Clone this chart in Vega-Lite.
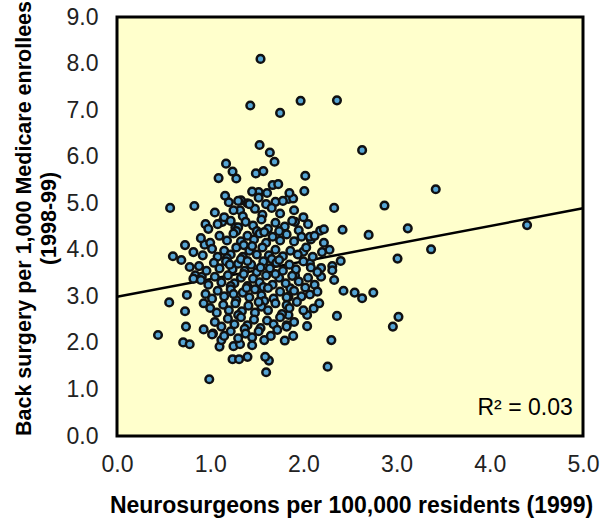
{
  "$schema": "https://vega.github.io/schema/vega-lite/v6.json",
  "width": 466,
  "height": 419,
  "autosize": "none",
  "padding": {"left": 117, "top": 17, "right": 19, "bottom": 87},
  "background": "white",
  "datasets": {
    "pts": [
      {"x":1.54,"y":8.10},{"x":1.43,"y":7.10},{"x":1.75,"y":6.94},{"x":1.97,"y":7.20},{"x":2.36,"y":7.21},
      {"x":1.53,"y":6.25},{"x":1.64,"y":6.09},{"x":1.69,"y":5.89},{"x":2.63,"y":6.14},{"x":1.17,"y":5.85},
      {"x":1.24,"y":5.68},{"x":1.28,"y":5.53},{"x":1.09,"y":5.54},{"x":1.49,"y":5.64},{"x":1.57,"y":5.69},
      {"x":2.02,"y":5.59},{"x":2.01,"y":5.26},{"x":1.67,"y":5.39},{"x":1.73,"y":5.41},{"x":1.16,"y":5.16},
      {"x":0.57,"y":4.90},{"x":0.83,"y":4.94},{"x":2.33,"y":4.90},{"x":3.42,"y":5.30},{"x":2.87,"y":4.95},
      {"x":2.42,"y":4.43},{"x":2.70,"y":4.32},{"x":3.12,"y":4.46},{"x":4.40,"y":4.53},{"x":3.37,"y":4.01},
      {"x":3.01,"y":3.81},{"x":2.40,"y":3.76},{"x":2.31,"y":3.65},{"x":2.33,"y":3.35},{"x":2.43,"y":3.12},
      {"x":2.55,"y":3.08},{"x":2.63,"y":2.96},{"x":2.75,"y":3.08},{"x":3.02,"y":2.56},{"x":2.96,"y":2.35},
      {"x":2.36,"y":2.58},{"x":2.30,"y":2.06},{"x":2.26,"y":1.49},{"x":1.52,"y":5.24},{"x":1.61,"y":5.22},
      {"x":1.84,"y":5.09},{"x":1.89,"y":5.10},{"x":1.70,"y":5.03},{"x":1.33,"y":5.06},{"x":1.32,"y":4.85},
      {"x":1.27,"y":4.48},{"x":0.95,"y":4.55},{"x":1.13,"y":4.60},{"x":2.18,"y":4.41},{"x":2.22,"y":4.44},
      {"x":2.08,"y":4.22},{"x":0.73,"y":4.10},{"x":0.94,"y":4.11},{"x":0.60,"y":3.86},{"x":0.69,"y":3.78},
      {"x":0.78,"y":3.63},{"x":0.84,"y":3.45},{"x":2.19,"y":3.42},{"x":2.02,"y":3.19},{"x":2.07,"y":3.04},
      {"x":2.17,"y":2.85},{"x":2.11,"y":2.74},{"x":2.04,"y":2.60},{"x":2.04,"y":2.36},{"x":1.89,"y":2.15},
      {"x":0.56,"y":2.87},{"x":0.73,"y":2.68},{"x":0.74,"y":2.35},{"x":0.44,"y":2.17},{"x":0.71,"y":2.01},
      {"x":0.78,"y":1.97},{"x":0.93,"y":2.29},{"x":0.99,"y":1.22},{"x":1.60,"y":1.37},{"x":1.63,"y":1.62},
      {"x":1.59,"y":1.70},{"x":1.24,"y":1.65},{"x":1.31,"y":1.65},{"x":1.40,"y":1.70},{"x":1.10,"y":1.92},
      {"x":1.25,"y":1.93},{"x":1.32,"y":1.97},{"x":1.45,"y":1.95},{"x":1.58,"y":2.06},{"x":1.12,"y":2.06},
      {"x":1.03,"y":2.20},{"x":0.93,"y":2.85},{"x":0.75,"y":3.03},{"x":1.02,"y":2.18},{"x":0.82,"y":3.38},
      {"x":0.91,"y":3.42},{"x":1.91,"y":4.60},{"x":2.07,"y":4.28},{"x":2.00,"y":3.96},{"x":2.07,"y":3.71},
      {"x":2.19,"y":3.61},{"x":2.31,"y":3.56},{"x":1.91,"y":3.45},{"x":1.82,"y":2.38},{"x":1.84,"y":2.60},
      {"x":1.82,"y":2.81},{"x":1.84,"y":2.99},{"x":1.86,"y":3.17},
      {"x":1.30,"y":5.05},{"x":1.40,"y":5.00},{"x":1.52,"y":5.12},{"x":1.60,"y":4.98},{"x":1.78,"y":5.05},
      {"x":1.85,"y":5.22},{"x":1.45,"y":5.25},{"x":1.20,"y":5.02},
      {"x":1.05,"y":4.80},{"x":1.25,"y":4.85},{"x":1.35,"y":4.72},{"x":1.48,"y":4.88},{"x":1.56,"y":4.75},
      {"x":1.66,"y":4.90},{"x":1.75,"y":4.78},{"x":1.90,"y":4.85},{"x":2.00,"y":4.70},{"x":1.15,"y":4.70},
      {"x":1.42,"y":4.98},
      {"x":0.98,"y":4.45},{"x":1.08,"y":4.55},{"x":1.22,"y":4.62},{"x":1.30,"y":4.48},{"x":1.38,"y":4.60},
      {"x":1.46,"y":4.52},{"x":1.55,"y":4.65},{"x":1.62,"y":4.45},{"x":1.70,"y":4.58},{"x":1.80,"y":4.50},
      {"x":1.88,"y":4.62},{"x":1.95,"y":4.42},{"x":2.05,"y":4.55},{"x":1.28,"y":4.40},{"x":1.50,"y":4.40},
      {"x":1.74,"y":4.40},
      {"x":0.90,"y":4.25},{"x":1.00,"y":4.15},{"x":1.10,"y":4.30},{"x":1.18,"y":4.20},{"x":1.25,"y":4.35},
      {"x":1.33,"y":4.18},{"x":1.40,"y":4.30},{"x":1.47,"y":4.22},{"x":1.53,"y":4.35},{"x":1.60,"y":4.15},
      {"x":1.67,"y":4.28},{"x":1.75,"y":4.20},{"x":1.82,"y":4.33},{"x":1.90,"y":4.18},{"x":1.98,"y":4.28},
      {"x":2.12,"y":4.30},{"x":2.22,"y":4.15},{"x":1.36,"y":4.10},{"x":1.58,"y":4.38},
      {"x":0.82,"y":3.95},{"x":0.92,"y":3.88},{"x":1.02,"y":4.02},{"x":1.08,"y":3.85},{"x":1.15,"y":3.98},
      {"x":1.22,"y":3.90},{"x":1.28,"y":4.05},{"x":1.35,"y":3.85},{"x":1.42,"y":3.98},{"x":1.50,"y":3.90},
      {"x":1.56,"y":4.05},{"x":1.63,"y":3.88},{"x":1.70,"y":4.00},{"x":1.78,"y":3.86},{"x":1.86,"y":3.98},
      {"x":1.94,"y":3.90},{"x":2.03,"y":4.05},{"x":2.10,"y":3.85},{"x":2.20,"y":3.95},{"x":1.45,"y":4.08},
      {"x":1.18,"y":3.82},{"x":1.66,"y":3.80},{"x":2.28,"y":4.00},
      {"x":0.88,"y":3.65},{"x":0.96,"y":3.55},{"x":1.04,"y":3.72},{"x":1.10,"y":3.60},{"x":1.17,"y":3.75},
      {"x":1.24,"y":3.58},{"x":1.30,"y":3.70},{"x":1.37,"y":3.55},{"x":1.44,"y":3.68},{"x":1.50,"y":3.52},
      {"x":1.57,"y":3.75},{"x":1.64,"y":3.60},{"x":1.71,"y":3.72},{"x":1.78,"y":3.55},{"x":1.85,"y":3.68},
      {"x":1.92,"y":3.58},{"x":2.00,"y":3.75},{"x":2.08,"y":3.62},{"x":2.15,"y":3.52},{"x":1.33,"y":3.80},
      {"x":1.54,"y":3.62},{"x":1.74,"y":3.78},{"x":1.21,"y":3.68},{"x":1.40,"y":3.76},
      {"x":0.90,"y":3.35},{"x":0.98,"y":3.25},{"x":1.05,"y":3.42},{"x":1.12,"y":3.30},{"x":1.19,"y":3.45},
      {"x":1.26,"y":3.28},{"x":1.33,"y":3.40},{"x":1.40,"y":3.22},{"x":1.46,"y":3.38},{"x":1.53,"y":3.30},
      {"x":1.60,"y":3.45},{"x":1.67,"y":3.25},{"x":1.74,"y":3.40},{"x":1.81,"y":3.28},{"x":1.88,"y":3.44},
      {"x":1.95,"y":3.32},{"x":2.05,"y":3.40},{"x":2.12,"y":3.25},{"x":1.36,"y":3.48},{"x":1.57,"y":3.20},
      {"x":1.22,"y":3.22},{"x":1.70,"y":3.48},
      {"x":0.95,"y":3.05},{"x":1.02,"y":2.95},{"x":1.08,"y":3.12},{"x":1.15,"y":3.00},{"x":1.22,"y":3.15},
      {"x":1.28,"y":2.92},{"x":1.35,"y":3.08},{"x":1.42,"y":2.98},{"x":1.48,"y":3.15},{"x":1.55,"y":3.02},
      {"x":1.62,"y":3.18},{"x":1.68,"y":2.95},{"x":1.75,"y":3.10},{"x":1.82,"y":2.98},{"x":1.90,"y":3.12},
      {"x":1.98,"y":3.00},{"x":2.15,"y":3.10},{"x":1.39,"y":3.18},{"x":1.58,"y":2.90},{"x":1.25,"y":3.05},
      {"x":1.00,"y":2.75},{"x":1.07,"y":2.65},{"x":1.14,"y":2.82},{"x":1.20,"y":2.70},{"x":1.27,"y":2.85},
      {"x":1.34,"y":2.68},{"x":1.41,"y":2.80},{"x":1.48,"y":2.65},{"x":1.55,"y":2.78},{"x":1.62,"y":2.70},
      {"x":1.70,"y":2.85},{"x":1.77,"y":2.62},{"x":1.85,"y":2.75},{"x":1.93,"y":2.88},{"x":2.00,"y":2.70},
      {"x":1.30,"y":2.60},{"x":1.52,"y":2.88},
      {"x":1.05,"y":2.45},{"x":1.12,"y":2.35},{"x":1.19,"y":2.52},{"x":1.26,"y":2.40},{"x":1.33,"y":2.55},
      {"x":1.40,"y":2.38},{"x":1.47,"y":2.50},{"x":1.54,"y":2.32},{"x":1.61,"y":2.48},{"x":1.68,"y":2.40},
      {"x":1.75,"y":2.55},{"x":1.82,"y":2.35},{"x":1.90,"y":2.45},{"x":1.37,"y":2.30},
      {"x":1.15,"y":2.15},{"x":1.22,"y":2.25},{"x":1.30,"y":2.10},{"x":1.38,"y":2.20},{"x":1.45,"y":2.12},
      {"x":1.52,"y":2.25},{"x":1.65,"y":2.15},{"x":1.72,"y":2.28},{"x":1.80,"y":2.05}
    ],
    "fit": [{"x":0,"y":2.99},{"x":5,"y":4.89}],
    "note": [{"x":4.89,"y":0.45,"label":"R² = 0.03"}]
  },
  "encoding": {
    "x": {
      "field": "x", "type": "quantitative",
      "scale": {"domain": [0, 5], "nice": false, "zero": false},
      "axis": {
        "values": [0, 1, 2, 3, 4, 5], "format": ".1f",
        "title": "Neurosurgeons per 100,000 residents (1999)",
        "titleX": 234, "titleY": 69, "titleBaseline": "middle", "titleAlign": "center"
      }
    },
    "y": {
      "field": "y", "type": "quantitative",
      "scale": {"domain": [0, 9], "nice": false, "zero": false},
      "axis": {
        "values": [0, 1, 2, 3, 4, 5, 6, 7, 8, 9], "format": ".1f",
        "title": ["Back surgery per 1,000 Medicare enrollees", "(1998-99)"],
        "titleX": -93, "titleY": 201, "titleAngle": -90, "titleBaseline": "middle", "titleAlign": "center",
        "titleLineHeight": 25, "titleFontSize": 21.5
      }
    }
  },
  "layer": [
    {
      "data": {"name": "fit"},
      "mark": {"type": "line", "color": "black", "strokeWidth": 2.5}
    },
    {
      "data": {"name": "pts"},
      "mark": {"type": "point", "shape": "circle", "filled": true, "size": 58, "fill": "#55A5D5", "fillOpacity": 1, "stroke": "#111111", "strokeWidth": 2.5, "opacity": 1}
    },
    {
      "data": {"name": "note"},
      "mark": {"type": "text", "align": "right", "baseline": "alphabetic", "font": "Liberation Sans", "fontSize": 23, "color": "black"},
      "encoding": {"text": {"field": "label"}}
    }
  ],
  "config": {
    "view": {"stroke": "black", "strokeWidth": 3, "fill": "#FFFFCC"},
    "axis": {
      "grid": false, "domain": false, "ticks": false, "tickSize": 0,
      "labelFont": "Liberation Sans", "labelFontSize": 23, "labelColor": "#222222",
      "labelFlush": false, "labelOverlap": false,
      "titleFont": "Liberation Sans", "titleFontSize": 23, "titleFontWeight": "bold", "titleColor": "black"
    },
    "axisX": {"labelPadding": 17},
    "axisY": {"labelPadding": 19}
  }
}
